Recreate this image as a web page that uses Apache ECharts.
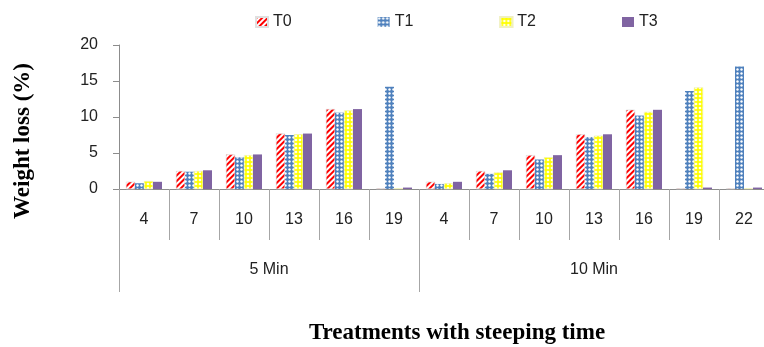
<!DOCTYPE html>
<html><head><meta charset="utf-8">
<script src="https://cdn.jsdelivr.net/npm/echarts@6/dist/echarts.min.js"></script>
<style>html,body{margin:0;padding:0;background:#fff}#c{width:764px;height:347px}</style>
</head><body><div id="c"></div>
<script>
// ---- data ----
const categories = ['4','7','10','13','16','19','4','7','10','13','16','19','22'];
const groups = ['5 Min','10 Min'];
const groupSizes = [6, 7];
const seriesNames = ['T0','T1','T2','T3'];
const T0 = [1.0, 2.5, 4.8, 7.7, 11.1, 0.1, 1.0, 2.5, 4.7, 7.6, 11.0, 0.1, 0.1];
const T1 = [0.8, 2.4, 4.4, 7.5, 10.6, 14.2, 0.7, 2.1, 4.1, 7.2, 10.2, 13.6, 17.0];
const T2 = [1.1, 2.5, 4.7, 7.6, 10.9, 0.1, 0.8, 2.3, 4.4, 7.4, 10.7, 14.1, 0.1];
const T3 = [1.0, 2.6, 4.8, 7.7, 11.1, 0.2, 1.0, 2.6, 4.7, 7.6, 11.0, 0.2, 0.2];
const yMin = 0, yMax = 20, yStep = 5;

// ---- group axis built from the groups (half-category points) ----
const nHalf = 2 * categories.length + 1;
const groupAxisData = new Array(nHalf).fill('');
const boundaryIdx = new Set([0]);
const centerIdx = new Set();
let start = 0;
groups.forEach((g, i) => {
  const c = 2 * start + groupSizes[i];
  groupAxisData[c] = g;
  centerIdx.add(c);
  start += groupSizes[i];
  boundaryIdx.add(2 * start);
});

const chart = echarts.init(document.getElementById('c'));
const labelFont = 'Liberation Sans';
chart.setOption({
  animation: false,
  grid: { left: 119, right: -5, top: 45, bottom: 158, outerBoundsMode: 'none', containLabel: false },
  legend: {
    data: seriesNames, left: 255, top: 14, padding: 0, itemWidth: 12, itemHeight: 10, itemGap: 86,
    textStyle: { fontFamily: labelFont, fontSize: 16, color: '#222' }, icon: 'rect'
  },
  xAxis: [{
    type: 'category', data: categories, position: 'bottom',
    axisLine: { show: true, lineStyle: { color: '#8c8c8c', width: 1 } },
    axisTick: { show: true, interval: 0, alignWithLabel: false, length: 51, lineStyle: { color: '#a6a6a6' } },
    axisLabel: { interval: 0, margin: 23, fontFamily: labelFont, fontSize: 16, color: '#222' }
  }, {
    type: 'category', data: groupAxisData, position: 'bottom', boundaryGap: false,
    axisLine: { show: false },
    axisTick: { show: true, interval: (i) => boundaryIdx.has(i), length: 103, lineStyle: { color: '#a6a6a6' } },
    axisLabel: { interval: (i) => centerIdx.has(i), margin: 73, fontFamily: labelFont, fontSize: 16, color: '#222' }
  }],
  yAxis: {
    type: 'value', min: yMin, max: yMax, interval: yStep,
    axisLine: { show: true, lineStyle: { color: '#8c8c8c' } },
    axisTick: { show: true, length: 6, lineStyle: { color: '#8c8c8c' } },
    splitLine: { show: false },
    axisLabel: { margin: 21, fontFamily: labelFont, fontSize: 16, color: '#222' }
  },
  graphic: [
    { type: 'text', x: 23, y: 141, rotation: Math.PI / 2,
      style: { text: 'Weight loss (%)', font: 'bold 23px "Liberation Serif"', fill: '#000', textAlign: 'center', textVerticalAlign: 'middle' } },
    { type: 'text', x: 457, y: 333,
      style: { text: 'Treatments with steeping time', font: 'bold 23px "Liberation Serif"', fill: '#000', textAlign: 'center', textVerticalAlign: 'middle' } }
  ],
  series: [
    { name: 'T0', type: 'bar', data: T0, barWidth: 9, barGap: '0%',
      itemStyle: { color: '#ffffff', borderColor: '#e0e0e0', borderWidth: 0.5,
        decal: { symbol: 'rect', color: '#ff0000', dashArrayX: [1, 0], dashArrayY: [2, 2], rotation: -Math.PI / 4, symbolSize: 1 } } },
    { name: 'T1', type: 'bar', data: T1, barWidth: 9,
      itemStyle: { color: '#4f81bd',
        decal: { symbol: 'circle', color: '#ffffff', dashArrayX: [3, 1], dashArrayY: [3, 1], symbolSize: 0.8 } } },
    { name: 'T2', type: 'bar', data: T2, barWidth: 9,
      itemStyle: { color: '#ffffff', borderColor: '#f0f0c0', borderWidth: 0.5,
        decal: { symbol: 'diamond', color: '#ffff00', dashArrayX: [4, 0], dashArrayY: [4, 0], symbolSize: 1.2 } } },
    { name: 'T3', type: 'bar', data: T3, barWidth: 9,
      itemStyle: { color: '#8064a2' } }
  ]
});
</script>
</body></html>
